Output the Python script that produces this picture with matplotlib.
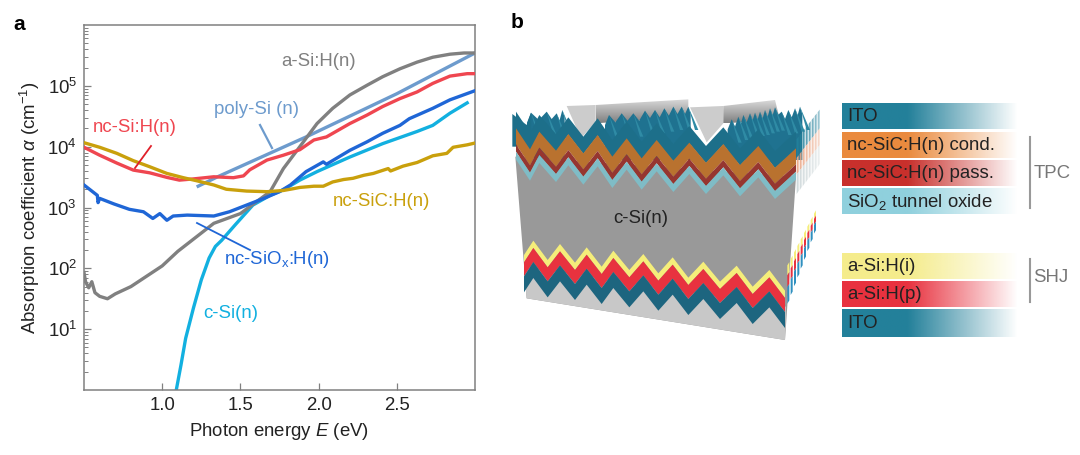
import numpy as np
import matplotlib
matplotlib.use("Agg")
import matplotlib.pyplot as plt
from matplotlib.patches import Polygon
from matplotlib.ticker import LogLocator, NullFormatter, FixedLocator

plt.rcParams['font.family'] = ['Liberation Sans', 'DejaVu Sans']
plt.rcParams['mathtext.fontset'] = 'custom'
plt.rcParams['mathtext.rm'] = 'Liberation Sans'
plt.rcParams['mathtext.it'] = 'Liberation Sans:italic'
plt.rcParams['mathtext.bf'] = 'Liberation Sans:bold'

# curves, panel a (energy, log10 of alpha)
e_asi = [0.5, 0.51, 0.53, 0.55, 0.57, 0.6, 0.65, 0.7, 0.8, 0.9, 1.0, 1.1, 1.19, 1.33, 1.5, 1.6, 1.69, 1.775, 1.88, 1.99, 2.09, 2.2, 2.31, 2.41, 2.52, 2.63, 2.73, 2.84, 2.93, 3.0]
a_asi = [1.93, 1.78, 1.68, 1.78, 1.6, 1.54, 1.5, 1.58, 1.7, 1.87, 2.04, 2.28, 2.46, 2.74, 2.9, 3.09, 3.26, 3.64, 4.0, 4.38, 4.63, 4.85, 5.01, 5.15, 5.28, 5.39, 5.47, 5.52, 5.54, 5.54]
e_poly = [1.23, 1.35, 1.92, 2.5, 3.0]
a_poly = [3.35, 3.5, 4.16, 4.87, 5.54]
e_ncsi = [0.5, 0.6, 0.71, 0.815, 0.92, 1.03, 1.11, 1.2, 1.33, 1.455, 1.52, 1.56, 1.67, 1.775, 1.88, 1.97, 2.05, 2.2, 2.31, 2.41, 2.52, 2.63, 2.73, 2.84, 2.95, 3.0]
a_ncsi = [3.99, 3.86, 3.73, 3.615, 3.57, 3.495, 3.45, 3.47, 3.505, 3.49, 3.52, 3.62, 3.78, 3.86, 3.95, 4.11, 4.16, 4.38, 4.52, 4.66, 4.79, 4.9, 5.04, 5.16, 5.2, 5.2]
e_ncsic = [0.5, 0.6, 0.71, 0.815, 0.92, 1.03, 1.135, 1.22, 1.33, 1.41, 1.54, 1.67, 1.775, 1.84, 1.88, 1.97, 2.03, 2.09, 2.16, 2.22, 2.29, 2.35, 2.445, 2.46, 2.54, 2.63, 2.73, 2.82, 2.86, 2.95, 3.0]
a_ncsic = [4.065, 3.99, 3.89, 3.77, 3.67, 3.56, 3.49, 3.44, 3.37, 3.3, 3.27, 3.26, 3.28, 3.31, 3.33, 3.35, 3.35, 3.42, 3.46, 3.48, 3.53, 3.56, 3.64, 3.6, 3.68, 3.74, 3.85, 3.89, 3.99, 4.03, 4.06]
e_ncsio = [0.5, 0.57, 0.585, 0.59, 0.6, 0.69, 0.79, 0.88, 0.94, 0.985, 1.03, 1.07, 1.16, 1.33, 1.43, 1.54, 1.65, 1.75, 1.82, 1.92, 2.03, 2.05, 2.2, 2.31, 2.41, 2.52, 2.58, 2.73, 2.84, 3.0]
a_ncsio = [3.37, 3.23, 3.2, 3.08, 3.15, 3.06, 2.97, 2.93, 2.82, 2.9, 2.79, 2.86, 2.875, 2.86, 2.93, 3.04, 3.15, 3.26, 3.37, 3.59, 3.75, 3.71, 3.94, 4.08, 4.22, 4.35, 4.46, 4.63, 4.77, 4.92]
e_csi = [1.09, 1.12, 1.15, 1.2, 1.25, 1.3, 1.34, 1.38, 1.465, 1.58, 1.69, 1.775, 1.88, 1.99, 2.2, 2.41, 2.63, 2.73, 2.84, 2.95]
a_csi = [0.0, 0.41, 0.85, 1.35, 1.81, 2.17, 2.36, 2.46, 2.71, 3.04, 3.2, 3.29, 3.45, 3.59, 3.83, 4.05, 4.25, 4.35, 4.55, 4.72]

xticks = [1.0, 1.5, 2.0, 2.5]

# legend rows, panel b: label, colour, top, bottom
leg_labels = ['ITO', 'nc-SiC:H(n) cond.', 'nc-SiC:H(n) pass.', 'SiO$_2$ tunnel oxide', 'a-Si:H(i)', 'a-Si:H(p)', 'ITO']
leg_colors = ['#23809a', '#ea8a3e', '#c8302c', '#8fd0dd', '#f5ec8c', '#e8323f', '#23809a']
leg_top = [103, 132, 160, 188, 253, 281, 309]
leg_bot = [129, 158, 186, 214, 279, 307, 337]

# zigzags of the block, in crop px (crop starts at 500, 80, scale 3)
top_x = [48, 90, 118, 168, 205, 250, 293, 337, 380, 425, 470, 520, 568, 618, 670, 720, 775, 825, 888]
top_y = [215, 278, 225, 282, 232, 290, 235, 300, 245, 305, 250, 312, 258, 318, 262, 325, 268, 333, 275]
bot_x = [72, 100, 143, 180, 225, 260, 305, 340, 388, 430, 475, 518, 565, 610, 660, 710, 758, 808, 855]
bot_y = [525, 482, 540, 492, 548, 502, 560, 512, 570, 522, 580, 532, 593, 545, 605, 557, 620, 570, 632]
# spike tips behind the front layer
tips_l_x = [93, 140, 170, 187]
tips_l_y = [98, 95, 100, 90]
tips_m_x = [327, 365, 400, 435, 465, 493, 520, 545, 565]
tips_m_y = [105, 100, 100, 92, 90, 85, 80, 80, 80]
tips_r_x = [695, 715, 730, 750, 765, 780, 795, 810, 825, 845, 865, 885, 900]
tips_r_y = [118, 110, 105, 100, 98, 95, 90, 85, 82, 95, 90, 85, 80]

fig = plt.figure(figsize=(10.8, 4.55), dpi=100)
W, H = 1080.0, 455.0
fs = 13.4

# panel a
ax = fig.add_axes([84 / W, 1 - 390 / H, 391 / W, 365 / H])
lw = 2.4
ax.plot(e_csi, 10.0 ** np.array(a_csi), color='#12b0e0', lw=lw, zorder=2)
ax.plot(e_asi, 10.0 ** np.array(a_asi), color='#808080', lw=lw, zorder=3)
ax.plot(e_poly, 10.0 ** np.array(a_poly), color='#6d9bcd', lw=lw, zorder=2)
ax.plot(e_ncsio, 10.0 ** np.array(a_ncsio), color='#1f66d6', lw=lw, zorder=3)
ax.plot(e_ncsi, 10.0 ** np.array(a_ncsi), color='#ef4650', lw=lw, zorder=3)
ax.plot(e_ncsic, 10.0 ** np.array(a_ncsic), color='#c9a00c', lw=lw, zorder=4)
ax.set_yscale('log')
ax.set_xlim(0.5, 3.0)
ax.set_ylim(1, 1e6)
ax.xaxis.set_major_locator(FixedLocator(xticks))
ax.set_xticklabels(['1.0', '1.5', '2.0', '2.5'])
ax.yaxis.set_major_locator(FixedLocator([10, 100, 1e3, 1e4, 1e5]))
ax.yaxis.set_minor_locator(LogLocator(base=10, subs=np.arange(2, 10), numticks=12))
ax.yaxis.set_minor_formatter(NullFormatter())
for s in ax.spines.values():
    s.set_color('#808080')
    s.set_linewidth(1.1)
ax.tick_params(axis='both', which='major', direction='in', length=5, width=0.9, color='#808080', labelsize=fs, labelcolor='#222222', pad=5)
ax.tick_params(axis='y', which='minor', direction='in', length=3, width=0.7, color='#808080')
ax.set_xlabel('Photon energy $E$ (eV)', fontsize=fs, color='#222222', labelpad=5)
ax.set_ylabel(r'Absorption coefficient $\alpha$ (cm$^{-1}$)', fontsize=fs, color='#222222', labelpad=4)

# overlay in pixels for labels and panel b
ov = fig.add_axes([0, 0, 1, 1], facecolor='none')
ov.axis('off')

ov.text(13, 25, 'a', fontsize=15, fontweight='bold', va='center')
ov.text(511, 23, 'b', fontsize=15, fontweight='bold', va='center')

ov.text(281, 62, 'a-Si:H(n)', color='#808080', fontsize=fs, va='center')
ov.text(214, 109, 'poly-Si (n)', color='#6d9bcd', fontsize=fs, va='center')
ov.text(93, 128, 'nc-Si:H(n)', color='#ef4650', fontsize=fs, va='center')
ov.text(333, 202, 'nc-SiC:H(n)', color='#c9a00c', fontsize=fs, va='center')
ov.text(224, 260, 'nc-SiO$_{\\mathrm{x}}$:H(n)', color='#1f66d6', fontsize=fs, va='center')
ov.text(203, 313, 'c-Si(n)', color='#12b0e0', fontsize=fs, va='center')
ov.plot([151, 135], [146, 168], color='#e0202a', lw=1.3)
ov.plot([260, 272], [125, 148], color='#6d9bcd', lw=1.6)
ov.plot([197, 250], [223, 250], color='#1f66d6', lw=1.3)


def cx(v):
    return 500 + np.asarray(v, dtype=float) / 3


def cy(v):
    return 80 + np.asarray(v, dtype=float) / 3


def band(xs, ys, up, down, color, z=3):
    # zigzag strip between two vertical offsets
    xs = np.asarray(xs, dtype=float)
    ys = np.asarray(ys, dtype=float)
    ov.fill(np.r_[cx(xs), cx(xs[::-1])], np.r_[cy(ys + up), cy(ys[::-1] + down)], color=color, lw=0, zorder=z)


def spikes(tx, ty, z=2):
    # row of teeth behind the front layer, darker flank on each
    xs = [tx[0] - 12]
    ys = [ty[0] + 30]
    for i in range(len(tx)):
        xs.append(tx[i])
        ys.append(ty[i])
        nxt = tx[i + 1] if i + 1 < len(tx) else tx[i] + 14
        xs.append((tx[i] + nxt) / 2)
        ys.append(ty[i] + 22)
    xs += [xs[-1], xs[0]]
    ys += [240, 240]
    ov.fill(cx(xs), cy(ys), color='#1f7290', lw=0, zorder=z)
    for a, b in zip(tx, ty):
        ov.fill(cx([a, a + 30, a + 20]), cy([b, b + 70, b + 70]), color='#2f8ba5', lw=0, zorder=z + 0.1)


def shaded(xs, ys, top_col, bot_col, z=1):
    # vertical grey gradient clipped to a polygon
    g = np.linspace(0, 1, 64)[:, None, None]
    img = (1 - g) * np.array(matplotlib.colors.to_rgb(top_col)) + g * np.array(matplotlib.colors.to_rgb(bot_col))
    im = ov.imshow(img, extent=[min(xs), max(xs), max(ys), min(ys)], aspect='auto', zorder=z, interpolation='bilinear')
    im.set_clip_path(Polygon(np.c_[xs, ys], transform=ov.transData))


# back sheet and V notches
ov.fill(cx([200, 287, 287, 243]), cy([78, 75, 125, 175]), color='#cccccc', lw=0, zorder=1)
ov.fill(cx([570, 670, 670, 620]), cy([82, 78, 130, 187]), color='#cccccc', lw=0, zorder=1)
shaded(cx([287, 565, 565, 287]), cy([75, 58, 110, 130]), '#dcdcdc', '#808080')
shaded(cx([670, 825, 840, 670]), cy([78, 60, 120, 130]), '#dcdcdc', '#808080')
spikes(tips_l_x, tips_l_y)
spikes(tips_m_x, tips_m_y)
spikes(tips_r_x, tips_r_y)
ov.fill(cx([37, 80, 93, 95, 37]), cy([102, 135, 98, 200, 200]), color='#1d6f8a', lw=0, zorder=2.2)

# block front
ov.fill(cx([46, 888, 855, 80]), cy([230, 290, 780, 655]), color='#999999', lw=0, zorder=2.5)
ov.fill(cx([72, 858, 855, 80]), cy([560, 680, 780, 655]), color='#c8c8c8', lw=0, zorder=2.6)

# top stack
band(top_x, top_y, -120, -68, '#1d6f8a')
band(top_x, top_y, -70, -22, '#b9722f')
band(top_x, top_y, -22, 0, '#963630')
band(top_x, top_y, 0, 24, '#7fbcc6')

# bottom stack
band(bot_x, bot_y, 0, 22, '#f5ee7a')
band(bot_x, bot_y, 22, 64, '#e8323f')
band(bot_x, bot_y, 64, 112, '#1d657f')

# side face stripes, faded
for i, x0 in enumerate(range(890, 956, 9)):
    a = 0.95 - 0.07 * i
    d = -1.28 * (x0 - 888)
    wd = 6
    ov.fill(cx([x0, x0 + wd, x0 + wd, x0]), cy([180 + d, 172 + d, 228 + d, 236 + d]), color='#23809a', alpha=a, lw=0, zorder=3)
    ov.fill(cx([x0, x0 + wd, x0 + wd, x0]), cy([236 + d, 228 + d, 278 + d, 286 + d]), color='#eaa98a', alpha=a, lw=0, zorder=3)
    ov.fill(cx([x0, x0 + wd, x0 + wd, x0]), cy([286 + d, 278 + d, 335 + d, 345 + d]), color='#cfd8da', alpha=a, lw=0, zorder=3)
for i, x0 in enumerate(range(862, 945, 10)):
    d = -1.94 * (x0 - 860)
    k = 1 - 0.06 * i
    wd = 6
    ov.fill(cx([x0, x0 + wd, x0 + wd, x0]), cy([560 + d, 550 + d, 550 + d + 30 * k, 560 + d + 30 * k]), color='#f5ee7a', lw=0, zorder=3)
    ov.fill(cx([x0, x0 + wd, x0 + wd, x0]), cy([560 + d + 30 * k, 550 + d + 30 * k, 550 + d + 65 * k, 560 + d + 65 * k]), color='#e8323f', lw=0, zorder=3)
    ov.fill(cx([x0, x0 + wd, x0 + wd, x0]), cy([560 + d + 65 * k, 550 + d + 65 * k, 550 + d + 115 * k, 560 + d + 115 * k]), color='#2f90c0', lw=0, zorder=3)

ov.text(cx(422), cy(415), 'c-Si(n)', fontsize=fs, color='#222222', ha='center', va='center', zorder=6)

# legend bars with fade to white
x_bar = 842
fade = np.clip(np.linspace(1.6, 0, 256), 0, 1)
for lab, col, t, b in zip(leg_labels, leg_colors, leg_top, leg_bot):
    rgba = np.ones((1, 256, 4))
    rgba[..., :3] = matplotlib.colors.to_rgb(col)
    rgba[..., 3] = fade
    ov.imshow(rgba, extent=[x_bar, 1018, b, t], aspect='auto', zorder=3, interpolation='bilinear')
    ov.text(x_bar + 5, (t + b) / 2 + 0.5, lab, fontsize=fs, color='#222222', va='center', zorder=5)
ov.set_xlim(0, W)
ov.set_ylim(H, 0)

ov.plot([1030, 1030], [137, 208], color='#999999', lw=1.5)
ov.plot([1030, 1030], [259, 302], color='#999999', lw=1.5)
ov.text(1034, 174, 'TPC', fontsize=fs, color='#777777', va='center')
ov.text(1033, 278, 'SHJ', fontsize=fs, color='#777777', va='center')

fig.savefig('out.png', dpi=100)
